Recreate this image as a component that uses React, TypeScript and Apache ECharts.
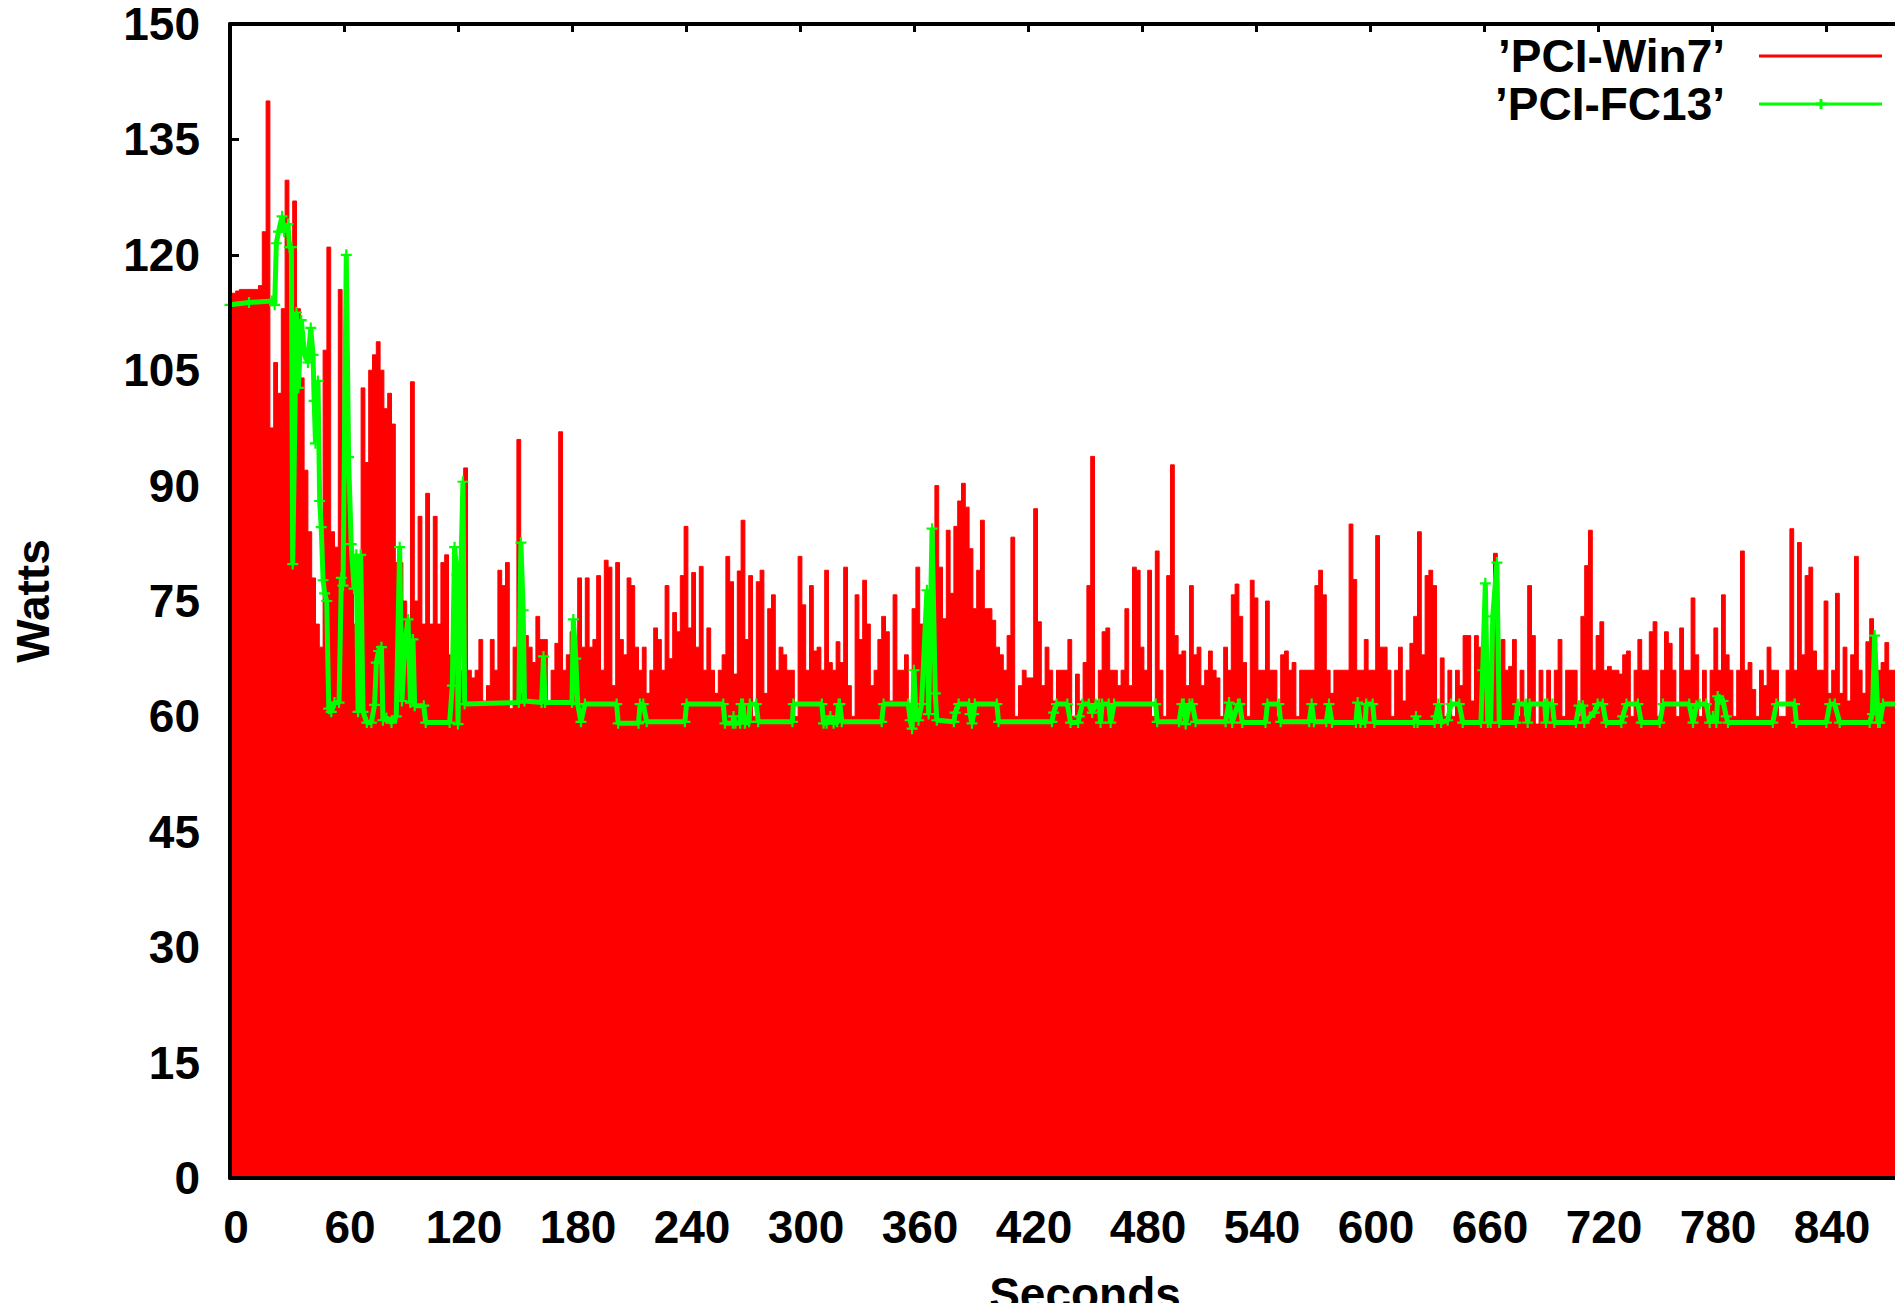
import React, { useEffect, useRef } from "react";
import * as echarts from "echarts";

// ---- data ----
const seriesNames = ["’PCI-Win7’", "’PCI-FC13’"];
const xAxisTitle = "Seconds";
const yAxisTitle = "Watts";
const xMin = 0;
const xMax = 900;
const xStep = 60;
const xLastShownTick = 840;
const yMin = 0;
const yMax = 150;
const yStep = 15;

// PCI-Win7: one reading every 2 seconds starting at 0 s
const win7StepSec = 2;
const win7Watts = [
  115, 115, 115.3, 115.5, 115.5, 115.5, 115.5, 115.5, 116, 123,
  140, 97.5, 106, 102, 113, 129.7, 120, 127, 113, 104,
  92, 84, 78, 72, 69, 107.6, 121, 84, 82, 115.5,
  82, 98, 80, 72, 66, 102.7, 93, 105, 107, 108.7,
  105, 100, 102, 98, 80, 80, 75, 72, 103.5, 75,
  86, 72, 89, 72, 86, 72, 80, 81, 68, 70,
  75, 66, 92.3, 66, 65, 66, 70, 62, 64, 70,
  66, 79, 77, 80, 61, 69, 96, 63, 70.5, 69,
  67, 73, 70, 70, 62, 66, 69.5, 97, 66, 68,
  71, 66, 78, 69, 78, 69, 70, 78.3, 66, 80.3,
  79.4, 64, 80, 70, 68, 78, 77, 69, 66, 69,
  63, 66, 71.5, 70, 66, 77, 67.5, 73.5, 71, 78.3,
  84.7, 71.5, 78.7, 69, 79.5, 66, 71.5, 66, 63, 66,
  68, 80.8, 77.5, 65.5, 78.9, 85.5, 70, 78.3, 60, 77.5,
  79, 63, 74, 75.8, 66, 69, 68, 66, 66, 60,
  80.8, 74.5, 66, 77, 68.5, 69, 66, 79, 67, 66,
  69.7, 67, 79.4, 64, 60, 75.8, 70, 77.7, 72, 64,
  66, 70, 73, 71, 62, 75.8, 66, 66, 68, 60,
  74, 79.4, 72, 68, 66, 77.5, 90, 79.4, 72.7, 84.2,
  76, 84.7, 88, 90.3, 87.2, 81.8, 74, 79, 85.5, 74,
  74, 72.5, 69, 68, 66, 70.5, 83.3, 60, 64, 66,
  65, 65, 87, 72.3, 64, 69, 66, 62, 66, 66,
  66, 70, 60, 65.5, 62, 67, 77, 93.8, 62, 66,
  71, 71.5, 66, 66, 64, 66, 74, 64, 79.4, 79,
  69, 66, 79, 60, 81.5, 66, 60, 78.3, 92.7, 70.5,
  68, 68.5, 64, 77, 68, 69, 64, 66, 68.5, 66,
  65, 60, 69, 66, 75.8, 77.2, 73, 67, 60, 77.7,
  75.4, 66, 66, 75, 66, 66, 60, 68, 68.5, 66,
  67, 60, 66, 66, 66, 66, 77, 79, 75.8, 66,
  63, 66, 66, 66, 66, 85, 77.8, 66, 66, 70,
  66, 66, 83.5, 69, 69, 66, 60, 66, 69, 62,
  66, 69.5, 73, 84, 68, 78.3, 79, 77, 60, 67.6,
  60, 66, 60, 66, 64, 70.5, 70.5, 62, 70.5, 69,
  66, 66, 60, 81.2, 61, 70, 66, 66.5, 70, 60,
  66, 60, 77, 70.5, 59, 66, 60, 66, 60, 66,
  70, 60, 66, 66, 66, 60, 73, 79.6, 84.2, 66,
  70.5, 72.3, 66, 66.5, 66, 66, 65.5, 68, 68.5, 60,
  66, 70, 66, 66, 71, 72.3, 60, 66, 71, 69.5,
  66, 60, 71.5, 66, 66, 75.4, 68, 60, 66, 60,
  66, 71.5, 66, 75.8, 68, 66, 60, 66, 81.5, 66,
  67, 63.5, 60, 66, 64, 69, 66, 66, 60, 60,
  66, 84.4, 66, 82.6, 68, 78.3, 79.4, 68.5, 66, 66,
  75, 63, 66, 76, 63, 69, 62, 68, 80.8, 66,
  63, 69.7, 72.7, 68, 66, 67, 69.6, 66, 66, 66,
];

// PCI-FC13: readings at the points where the trace changes
const fc13Sec = [
  0, 10, 22, 23.5, 24.4, 25.5, 27.4, 28.5, 30.5, 31.3, 32.3, 33, 35, 36, 37.5, 39.3, 41, 42.5, 43.7, 44.3,
  45, 46.3, 47.2, 48, 49, 49.8, 50.9, 52, 53.3, 55, 57.4, 58.6, 59.5, 61.2, 62.4, 63.8, 65.3, 66.5, 67.4, 68.8,
  70, 72, 74.4, 76.1, 77, 78.2, 79.7, 80.5, 82.3, 85, 87.5, 89.3, 90.5, 92, 93.7, 95, 96.3, 97.2, 102, 103,
  115.6, 117, 118.2, 119.5, 120, 121.2, 122.6, 123.5, 152, 153.1, 154.3, 155, 164, 165, 165.8, 180, 180.7, 182, 183, 184.7,
  186.8, 203.5, 204.3, 215, 215.8, 217.5, 219.3, 239.4, 240.3, 259.6, 260.5, 264.7, 265, 266, 268.5, 269, 270, 271, 273.2, 273.6,
  277, 278, 296, 296.5, 311.5, 312.4, 314, 316, 317.7, 319.5, 320.3, 321, 322, 343, 344, 357, 358, 359, 360, 361,
  362.4, 364, 366.8, 367.7, 369.5, 371.2, 372, 381, 381.7, 383.5, 389, 389.5, 390.5, 391.4, 392, 403.6, 404.5, 432.6, 433.5, 435,
  440.7, 442.4, 446.4, 447, 448.6, 452, 453.8, 455.6, 457.5, 458.2, 459, 462.5, 463.5, 465.3, 487.2, 488, 499.5, 501, 502, 503,
  505, 506.5, 508.2, 524, 525.8, 527.5, 530.5, 531.5, 532.8, 545, 546, 552, 553, 568, 569.3, 570.5, 577, 578.4, 580, 592.6,
  593.5, 595, 597.5, 598, 601.4, 602.3, 623.3, 624.2, 625, 634, 634.7, 636, 637.4, 640.9, 642.6, 647, 648.8, 658.4, 659.3, 660.7,
  662, 663.5, 664.6, 666.8, 668, 676.8, 677.7, 682, 683, 684, 692, 692.6, 693.3, 696, 697, 708.4, 710, 712, 712.8, 718,
  719.8, 722.5, 724.2, 732.3, 733, 735, 741, 742.8, 752.5, 754.2, 768, 770, 771.8, 773.5, 777, 778.8, 780.5, 782.3, 783, 784,
  785.8, 787.5, 788.4, 812, 813.9, 823.5, 824.4, 840.2, 842, 844.6, 847.2, 863, 864.4, 865.6, 867.4, 868.3, 870, 880,
];
const fc13Watts = [
  113.5, 113.8, 114, 113.5, 121.5, 123, 125, 123, 124, 121, 121, 79.8, 112.5, 102.7, 111.5, 107, 106, 110.5, 107, 101,
  95.5, 103.6, 88, 84.6, 77.7, 76, 75, 61, 60.6, 61.8, 61.8, 78, 77, 120, 93.7, 82.4, 76.6, 81, 60.6, 81,
  60.6, 59.2, 59.2, 61.5, 67, 68.5, 69, 59.5, 59.8, 59.2, 60, 82, 62, 69.5, 72.6, 61.8, 70, 61.4, 61.4, 59.2,
  59.2, 64, 82, 78.4, 59, 76, 90.5, 61.6, 61.8, 82.6, 73.8, 62, 61.8, 67.8, 61.8, 61.8, 72.6, 67.5, 61.6, 59.3,
  61.6, 61.6, 59.1, 59.1, 61.6, 61.6, 59.3, 59.3, 61.6, 61.6, 59.1, 59.1, 60, 59.1, 59.1, 61.6, 61.6, 59.1, 59.3, 61.6,
  61.6, 59.3, 59.3, 61.6, 61.6, 59.1, 59.1, 60, 59.1, 59.3, 61.6, 61.6, 59.3, 59.3, 61.6, 61.6, 59.5, 58.4, 66, 60,
  59.5, 61.6, 76.4, 60.3, 84.4, 63, 59.5, 59.3, 60.5, 61.6, 61.6, 60.3, 59.1, 60.3, 61.6, 61.6, 59.3, 59.3, 60.5, 61.6,
  61.6, 59.2, 59.2, 60, 61.6, 61.6, 60.5, 61.6, 61.6, 59.2, 61.6, 61.6, 59.2, 61.6, 61.6, 59.3, 59.3, 61.6, 61.6, 59,
  61.6, 61.6, 59.3, 59.3, 61.8, 59.2, 61.6, 61.6, 59.2, 59.2, 61.6, 61.6, 59.3, 59.3, 61.6, 59.3, 59.3, 61.6, 59.2, 59.2,
  61.8, 59.2, 59.2, 61.6, 61.6, 59.2, 59.2, 60, 59.2, 59.2, 60, 61.6, 59.2, 59.5, 61.6, 61.6, 59.2, 59.2, 66, 77.3,
  59.2, 59.2, 73, 80, 59.2, 59.2, 61.6, 61.6, 59.2, 61.6, 61.6, 59.2, 61.6, 61.6, 59.2, 59.2, 61.4, 61.4, 59.2, 60.5,
  61.6, 61.6, 59.2, 59.2, 60, 61.6, 61.6, 59.2, 59.2, 61.6, 61.6, 59.2, 61.4, 61.6, 61.6, 59.2, 60, 59.2, 62.6, 62.2,
  62, 60, 59.2, 59.2, 61.6, 61.6, 59.2, 59.2, 61.6, 61.6, 59.2, 59.2, 60.3, 70.5, 59.2, 59.2, 61.6, 61.6,
];

const WIDTH = 1895;
const HEIGHT = 1303;
const FONT = "'Liberation Sans', Arial, Helvetica, sans-serif";
const RED = "#ff0000";
const GREEN = "#00ff00";

export default function App() {
  const ref = useRef<HTMLDivElement>(null);

  useEffect(() => {
    if (!ref.current) return;
    const chart = echarts.init(ref.current, null, { renderer: "svg" });

    const win7 = win7Watts.map((v, i) => [xMin + i * win7StepSec, v]);
    const fc13 = fc13Sec.map((t, i) => [t, fc13Watts[i]]);
    const plus = "path://M4,0H6V4H10V6H6V10H4V6H0V4H4Z";

    const labelStyle = {
      fontSize: 46,
      fontWeight: "bold" as const,
      color: "#000",
      fontFamily: FONT,
      lineHeight: 46,
    };

    chart.setOption({
      animation: false,
      backgroundColor: "#ffffff",
      textStyle: { fontFamily: FONT },
      grid: {
        left: 230,
        top: 24,
        right: -45,
        bottom: 125,
        containLabel: false,
        outerBoundsMode: "none",
      },
      xAxis: [
        {
          type: "value",
          position: "bottom",
          min: xMin,
          max: xMax,
          interval: xStep,
          z: 5,
          axisLine: { show: true, onZero: false, lineStyle: { color: "#000", width: 4 } },
          axisTick: { show: false },
          splitLine: { show: false },
          axisLabel: {
            ...labelStyle,
            margin: 26,
            padding: [0, 0, 0, 12],
            formatter: (v: number) => (v <= xLastShownTick ? String(v) : ""),
          },
          name: xAxisTitle,
          nameLocation: "middle",
          nameGap: 93,
          nameTextStyle: labelStyle,
        },
        {
          type: "value",
          position: "top",
          min: xMin,
          max: xMax,
          interval: xStep,
          z: 5,
          axisLine: { show: true, onZero: false, lineStyle: { color: "#000", width: 4 } },
          axisTick: { show: true, inside: true, length: 8, lineStyle: { color: "#000", width: 3 } },
          axisLabel: { show: false },
          splitLine: { show: false },
        },
      ],
      yAxis: [
        {
          type: "value",
          position: "left",
          min: yMin,
          max: yMax,
          interval: yStep,
          axisLine: { show: false },
          axisTick: { show: true, inside: true, length: 9, lineStyle: { color: "#000", width: 3 } },
          axisLabel: { ...labelStyle, margin: 30 },
          splitLine: { show: false },
          name: yAxisTitle,
          nameLocation: "middle",
          nameRotate: 90,
          nameGap: 174,
          nameTextStyle: labelStyle,
        },
        {
          type: "value",
          position: "left",
          min: yMin,
          max: yMax,
          interval: yStep,
          z: 5,
          axisLine: { show: true, onZero: false, lineStyle: { color: "#000", width: 4 } },
          axisTick: { show: false },
          axisLabel: { show: false },
          splitLine: { show: false },
        },
      ],
      series: [
        {
          name: seriesNames[0],
          type: "line",
          xAxisIndex: 0,
          yAxisIndex: 0,
          data: win7,
          step: "middle",
          symbol: "none",
          lineStyle: { color: RED, width: 1 },
          itemStyle: { color: RED },
          areaStyle: { color: RED, opacity: 1 },
          z: 2,
        },
        {
          name: seriesNames[1],
          type: "line",
          xAxisIndex: 0,
          yAxisIndex: 0,
          data: fc13,
          symbol: plus,
          symbolSize: 11,
          showSymbol: true,
          lineStyle: { color: GREEN, width: 5 },
          itemStyle: { color: GREEN },
          z: 3,
        },
      ],
      graphic: [
        {
          type: "text",
          x: 1725,
          y: 56,
          z: 10,
          style: {
            text: seriesNames[0],
            align: "right",
            verticalAlign: "middle",
            fontSize: 46,
            fontWeight: "bold",
            fontFamily: FONT,
            fill: "#000",
          },
        },
        {
          type: "line",
          z: 10,
          shape: { x1: 1759, y1: 56, x2: 1882, y2: 56 },
          style: { stroke: RED, lineWidth: 3 },
        },
        {
          type: "text",
          x: 1725,
          y: 104,
          z: 10,
          style: {
            text: seriesNames[1],
            align: "right",
            verticalAlign: "middle",
            fontSize: 46,
            fontWeight: "bold",
            fontFamily: FONT,
            fill: "#000",
          },
        },
        {
          type: "line",
          z: 10,
          shape: { x1: 1759, y1: 104, x2: 1882, y2: 104 },
          style: { stroke: GREEN, lineWidth: 3 },
        },
        {
          type: "line",
          z: 10,
          shape: { x1: 1816, y1: 104, x2: 1826, y2: 104 },
          style: { stroke: GREEN, lineWidth: 3 },
        },
        {
          type: "line",
          z: 10,
          shape: { x1: 1821, y1: 99, x2: 1821, y2: 109 },
          style: { stroke: GREEN, lineWidth: 3 },
        },
      ],
    });

    return () => {
      chart.dispose();
    };
  }, []);

  return (
    <div
      ref={ref}
      style={{
        position: "fixed",
        left: 0,
        top: 0,
        width: WIDTH,
        height: HEIGHT,
        background: "#ffffff",
      }}
    />
  );
}
